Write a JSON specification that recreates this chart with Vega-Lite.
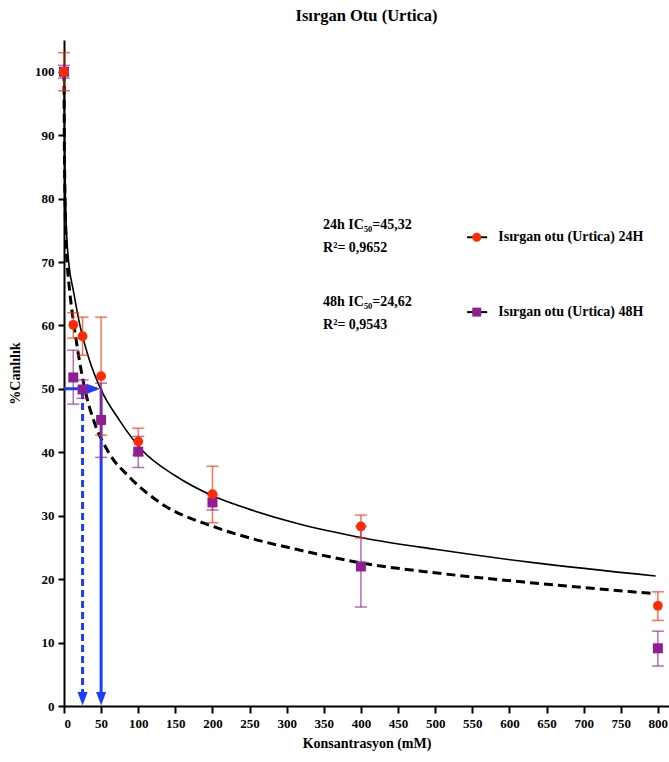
{
  "$schema": "https://vega.github.io/schema/vega-lite/v6.json",
  "width": 605,
  "height": 666,
  "autosize": {"type": "none"},
  "padding": {"left": 64, "top": 40, "right": 0, "bottom": 56},
  "background": "white",
  "title": {"text": "Isırgan Otu (Urtica)", "font": "Liberation Serif", "fontSize": 16.5, "fontWeight": "bold", "color": "black", "anchor": "middle", "offset": 16},
  "config": {
    "view": {"stroke": null},
    "axis": {"domainColor": "black", "domainWidth": 2, "tickColor": "black", "tickWidth": 2, "tickSize": 6, "labelFont": "Liberation Serif", "labelFontWeight": "bold", "labelFontSize": 13, "labelColor": "black", "labelOverlap": false, "titleFont": "Liberation Serif", "titleFontWeight": "bold", "titleFontSize": 14, "titleColor": "black", "grid": false},
    "axisX": {"tickCount": 17, "tickSize": 7},
    "axisY": {"tickCount": 11}
  },
  "datasets": {
    "pts": [
      {"x": 0, "y": 100, "lo": 97, "hi": 103, "series": "24H"},
      {"x": 12.5, "y": 60.1, "lo": 58.0, "hi": 62.0, "series": "24H"},
      {"x": 25, "y": 58.3, "lo": 55.3, "hi": 61.3, "series": "24H"},
      {"x": 50, "y": 52.0, "lo": 42.7, "hi": 61.3, "series": "24H"},
      {"x": 100, "y": 41.7, "lo": 39.5, "hi": 43.8, "series": "24H"},
      {"x": 200, "y": 33.4, "lo": 28.9, "hi": 37.8, "series": "24H"},
      {"x": 400, "y": 28.3, "lo": 26.5, "hi": 30.1, "series": "24H"},
      {"x": 800, "y": 15.8, "lo": 13.5, "hi": 18.0, "series": "24H"},
      {"x": 0, "y": 100, "lo": 99, "hi": 101, "series": "48H"},
      {"x": 12.5, "y": 51.8, "lo": 47.6, "hi": 56.1, "series": "48H"},
      {"x": 25, "y": 49.9, "lo": 48.5, "hi": 51.4, "series": "48H"},
      {"x": 50, "y": 45.1, "lo": 39.2, "hi": 50.9, "series": "48H"},
      {"x": 100, "y": 40.1, "lo": 37.6, "hi": 42.5, "series": "48H"},
      {"x": 200, "y": 32.1, "lo": 30.9, "hi": 33.3, "series": "48H"},
      {"x": 400, "y": 22.0, "lo": 15.6, "hi": 28.3, "series": "48H"},
      {"x": 800, "y": 9.1, "lo": 6.3, "hi": 11.8, "series": "48H"}
    ],
    "fit": [
      {"x": 0, "y": 100, "series": "24H"},
      {"x": 0.4, "y": 92, "series": "24H"},
      {"x": 1, "y": 86, "series": "24H"},
      {"x": 2, "y": 80, "series": "24H"},
      {"x": 3, "y": 76, "series": "24H"},
      {"x": 4.5, "y": 72.5, "series": "24H"},
      {"x": 6.7, "y": 69.5, "series": "24H"},
      {"x": 12.6, "y": 65.5, "series": "24H"},
      {"x": 21.5, "y": 60, "series": "24H"},
      {"x": 33, "y": 55, "series": "24H"},
      {"x": 49.4, "y": 50, "series": "24H"},
      {"x": 75, "y": 45, "series": "24H"},
      {"x": 104.6, "y": 40.4, "series": "24H"},
      {"x": 150, "y": 36.3, "series": "24H"},
      {"x": 201, "y": 33.1, "series": "24H"},
      {"x": 250, "y": 31.0, "series": "24H"},
      {"x": 313, "y": 28.8, "series": "24H"},
      {"x": 403, "y": 26.5, "series": "24H"},
      {"x": 500, "y": 24.7, "series": "24H"},
      {"x": 632, "y": 22.6, "series": "24H"},
      {"x": 797, "y": 20.5, "series": "24H"},
      {"x": 0, "y": 100, "series": "48H"},
      {"x": 0.4, "y": 90, "series": "48H"},
      {"x": 1, "y": 83, "series": "48H"},
      {"x": 2, "y": 76, "series": "48H"},
      {"x": 2.7, "y": 73, "series": "48H"},
      {"x": 4.5, "y": 69.5, "series": "48H"},
      {"x": 8, "y": 65, "series": "48H"},
      {"x": 13.5, "y": 60, "series": "48H"},
      {"x": 20, "y": 55, "series": "48H"},
      {"x": 28, "y": 50, "series": "48H"},
      {"x": 40, "y": 45, "series": "48H"},
      {"x": 59, "y": 40.2, "series": "48H"},
      {"x": 89, "y": 36.0, "series": "48H"},
      {"x": 130, "y": 32.0, "series": "48H"},
      {"x": 201, "y": 28.3, "series": "48H"},
      {"x": 250, "y": 26.5, "series": "48H"},
      {"x": 313, "y": 24.7, "series": "48H"},
      {"x": 403, "y": 22.5, "series": "48H"},
      {"x": 500, "y": 21.0, "series": "48H"},
      {"x": 632, "y": 19.4, "series": "48H"},
      {"x": 797, "y": 17.7, "series": "48H"}
    ],
    "blue": [
      {"x": 0, "y": 50, "x2": 44, "y2": 50, "style": "solid"},
      {"x": 50, "y": 50, "x2": 50, "y2": 2, "style": "solid"},
      {"x": 25, "y": 49.5, "x2": 25, "y2": 2, "style": "dashed"}
    ],
    "heads": [
      {"x": 39.5, "y": 50, "dir": "right"},
      {"x": 50, "y": 1.15, "dir": "down"},
      {"x": 25, "y": 1.15, "dir": "down"}
    ],
    "notes": [
      {"x": 349, "y": 75.8, "t": "24h IC₅₀=45,32"},
      {"x": 349, "y": 72.2, "t": "R²= 0,9652"},
      {"x": 349, "y": 63.7, "t": "48h IC₅₀=24,62"},
      {"x": 349, "y": 60.1, "t": "R²= 0,9543"}
    ],
    "legend": [
      {"x": 556, "y": 73.9, "x1": 543, "x2": 570, "tx": 585, "series": "24H", "t": "Isırgan otu (Urtica) 24H"},
      {"x": 556, "y": 62.1, "x1": 543, "x2": 570, "tx": 585, "series": "48H", "t": "Isırgan otu (Urtica) 48H"}
    ]
  },
  "layer": [
    {
      "data": {"name": "fit"},
      "transform": [{"filter": "datum.series == '24H'"}],
      "mark": {"type": "line", "color": "black", "strokeWidth": 1.6, "interpolate": "monotone"},
      "encoding": {
        "x": {"field": "x", "type": "quantitative", "scale": {"domain": [0, 815], "nice": false, "zero": false},
              "axis": {"values": [0,50,100,150,200,250,300,350,400,450,500,550,600,650,700,750,800], "title": "Konsantrasyon (mM)", "titlePadding": 6, "labelPadding": 4}},
        "y": {"field": "y", "type": "quantitative", "scale": {"domain": [0, 105], "nice": false},
              "axis": {"values": [0,10,20,30,40,50,60,70,80,90,100], "title": "%Canlılık", "titlePadding": 12, "labelPadding": 4}},
        "order": {"field": "x", "type": "quantitative"}
      }
    },
    {
      "data": {"name": "fit"},
      "transform": [{"filter": "datum.series == '48H'"}],
      "mark": {"type": "line", "color": "black", "strokeWidth": 3, "strokeDash": [9, 5], "interpolate": "monotone"},
      "encoding": {
        "x": {"field": "x", "type": "quantitative"},
        "y": {"field": "y", "type": "quantitative"},
        "order": {"field": "x", "type": "quantitative"}
      }
    },
    {
      "data": {"name": "blue"},
      "mark": {"type": "rule", "color": "#1b3dff", "strokeWidth": 3},
      "encoding": {
        "x": {"field": "x", "type": "quantitative"},
        "y": {"field": "y", "type": "quantitative"},
        "x2": {"field": "x2"},
        "y2": {"field": "y2"},
        "strokeDash": {"field": "style", "type": "nominal", "scale": {"domain": ["solid", "dashed"], "range": [[1, 0], [7, 4]]}, "legend": null}
      }
    },
    {
      "data": {"name": "heads"},
      "mark": {"type": "point", "filled": true, "color": "#1b3dff", "opacity": 1, "size": 180},
      "encoding": {
        "x": {"field": "x", "type": "quantitative"},
        "y": {"field": "y", "type": "quantitative"},
        "shape": {"field": "dir", "type": "nominal", "scale": {"domain": ["right", "down"], "range": ["M-1,-0.75L1,0L-1,0.75Z", "M-0.75,-1L0.75,-1L0,1Z"]}, "legend": null}
      }
    },
    {
      "data": {"name": "pts"},
      "mark": {"type": "rule", "strokeWidth": 1.5, "opacity": 0.65},
      "encoding": {
        "x": {"field": "x", "type": "quantitative"},
        "y": {"field": "lo", "type": "quantitative"},
        "y2": {"field": "hi"},
        "color": {"field": "series", "type": "nominal", "scale": {"domain": ["24H", "48H"], "range": ["#ff2a00", "#8e1f93"]}, "legend": null}
      }
    },
    {
      "data": {"name": "pts"},
      "mark": {"type": "tick", "thickness": 1.5, "size": 12, "opacity": 0.65, "orient": "horizontal"},
      "encoding": {
        "x": {"field": "x", "type": "quantitative"},
        "y": {"field": "lo", "type": "quantitative"},
        "color": {"field": "series", "type": "nominal", "scale": {"domain": ["24H", "48H"], "range": ["#ff2a00", "#8e1f93"]}, "legend": null}
      }
    },
    {
      "data": {"name": "pts"},
      "mark": {"type": "tick", "thickness": 1.5, "size": 12, "opacity": 0.65, "orient": "horizontal"},
      "encoding": {
        "x": {"field": "x", "type": "quantitative"},
        "y": {"field": "hi", "type": "quantitative"},
        "color": {"field": "series", "type": "nominal", "scale": {"domain": ["24H", "48H"], "range": ["#ff2a00", "#8e1f93"]}, "legend": null}
      }
    },
    {
      "data": {"name": "pts"},
      "transform": [{"filter": "datum.series == '48H'"}],
      "mark": {"type": "point", "shape": "square", "filled": true, "opacity": 1, "size": 100, "color": "#8e1f93"},
      "encoding": {
        "x": {"field": "x", "type": "quantitative"},
        "y": {"field": "y", "type": "quantitative"}
      }
    },
    {
      "data": {"name": "pts"},
      "transform": [{"filter": "datum.series == '24H'"}],
      "mark": {"type": "point", "shape": "circle", "filled": true, "opacity": 1, "size": 95, "color": "#ff2a00"},
      "encoding": {
        "x": {"field": "x", "type": "quantitative"},
        "y": {"field": "y", "type": "quantitative"}
      }
    },
    {
      "data": {"name": "notes"},
      "mark": {"type": "text", "align": "left", "baseline": "middle", "font": "Liberation Serif", "fontWeight": "bold", "fontSize": 14, "color": "black"},
      "encoding": {
        "x": {"field": "x", "type": "quantitative"},
        "y": {"field": "y", "type": "quantitative"},
        "text": {"field": "t"}
      }
    },
    {
      "data": {"name": "legend"},
      "mark": {"type": "rule", "color": "black", "strokeWidth": 2},
      "encoding": {
        "x": {"field": "x1", "type": "quantitative"},
        "x2": {"field": "x2"},
        "y": {"field": "y", "type": "quantitative"}
      }
    },
    {
      "data": {"name": "legend"},
      "mark": {"type": "point", "filled": true, "opacity": 1, "size": 80},
      "encoding": {
        "x": {"field": "x", "type": "quantitative"},
        "y": {"field": "y", "type": "quantitative"},
        "color": {"field": "series", "type": "nominal", "scale": {"domain": ["24H", "48H"], "range": ["#ff2a00", "#8e1f93"]}, "legend": null},
        "shape": {"field": "series", "type": "nominal", "scale": {"domain": ["24H", "48H"], "range": ["circle", "square"]}, "legend": null}
      }
    },
    {
      "data": {"name": "legend"},
      "mark": {"type": "text", "align": "left", "baseline": "middle", "font": "Liberation Serif", "fontWeight": "bold", "fontSize": 14, "color": "black"},
      "encoding": {
        "x": {"field": "tx", "type": "quantitative"},
        "y": {"field": "y", "type": "quantitative"},
        "text": {"field": "t"}
      }
    }
  ],
  "resolve": {"scale": {"shape": "independent", "strokeDash": "independent"}}
}
